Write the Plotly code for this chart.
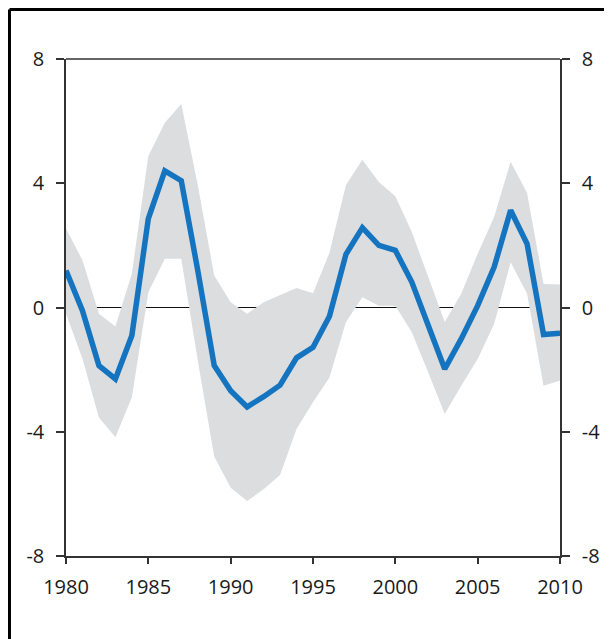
import plotly.graph_objects as go

years = list(range(1980, 2011))

central = [1.19, -0.1, -1.87, -2.3, -0.9, 2.86, 4.4, 4.08, 1.2, -1.87,
           -2.68, -3.2, -2.87, -2.5, -1.62, -1.28, -0.28, 1.71, 2.57, 2.0,
           1.84, 0.82, -0.58, -1.98, -1.01, 0.06, 1.3, 3.13, 2.05, -0.87,
           -0.83]

upper = [2.54, 1.52, -0.2, -0.61, 1.09, 4.88, 5.95, 6.55, 3.95, 1.03,
         0.17, -0.2, 0.17, 0.39, 0.63, 0.46, 1.76, 3.94, 4.76, 4.04,
         3.58, 2.43, 0.98, -0.47, 0.44, 1.73, 2.91, 4.69, 3.69, 0.76,
         0.74]

lower = [-0.2, -1.65, -3.54, -4.18, -2.89, 0.49, 1.57, 1.57, -1.7, -4.8,
         -5.8, -6.23, -5.85, -5.39, -3.91, -3.05, -2.25, -0.47, 0.33, 0.06,
         0.06, -0.8, -2.09, -3.43, -2.52, -1.66, -0.53, 1.46, 0.44, -2.52,
         -2.35]

y_ticks = [-8, -4, 0, 4, 8]
y_labels = ["-8", "-4", "0", "4", "8"]
x_ticks = [1980, 1985, 1990, 1995, 2000, 2005, 2010]

band_color = "#dcdddf"
line_color = "#1574c0"
axis_color = "#333333"

fig = go.Figure()

fig.add_trace(go.Scatter(x=years, y=lower, mode="lines",
                         line=dict(width=0, color=band_color),
                         hoverinfo="skip", showlegend=False))
fig.add_trace(go.Scatter(x=years, y=upper, mode="lines",
                         line=dict(width=0, color=band_color),
                         fill="tonexty", fillcolor=band_color,
                         hoverinfo="skip", showlegend=False))
fig.add_trace(go.Scatter(x=years, y=central, mode="lines",
                         line=dict(width=5.5, color=line_color),
                         showlegend=False))
# dummy trace so the right axis gets drawn
fig.add_trace(go.Scatter(x=years, y=central, mode="lines", yaxis="y2",
                         line=dict(width=0), opacity=0,
                         hoverinfo="skip", showlegend=False))

font = dict(family="Open Sans, sans-serif", size=20, color="#1a1a1a")

# page body adds 8px, so margins are shifted to compensate
fig.update_layout(
    width=612,
    height=639,
    margin=dict(l=58, r=60, t=51, b=91),
    paper_bgcolor="white",
    plot_bgcolor="white",
    font=font,
    xaxis=dict(
        range=[1980, 2010],
        tickvals=x_ticks,
        showgrid=False,
        zeroline=False,
        showline=True,
        linecolor=axis_color,
        linewidth=1.5,
        ticks="outside",
        ticklen=6,
        tickwidth=1.5,
        tickcolor=axis_color,
        ticklabelstandoff=6,
        automargin=False,
    ),
    yaxis=dict(
        range=[-8, 8],
        tickvals=y_ticks,
        ticktext=y_labels,
        showgrid=False,
        zeroline=True,
        zerolinecolor="#111111",
        zerolinewidth=1,
        showline=True,
        linecolor=axis_color,
        linewidth=1.5,
        ticks="outside",
        ticklen=8,
        tickwidth=1.5,
        tickcolor=axis_color,
        ticklabelstandoff=8,
        automargin=False,
    ),
    yaxis2=dict(
        range=[-8, 8],
        tickvals=y_ticks,
        ticktext=y_labels,
        overlaying="y",
        side="right",
        showgrid=False,
        zeroline=False,
        showline=True,
        linecolor=axis_color,
        linewidth=1.5,
        ticks="outside",
        ticklen=8,
        tickwidth=1.5,
        tickcolor=axis_color,
        ticklabelstandoff=8,
        automargin=False,
    ),
    shapes=[
        # top line at 8
        dict(type="line", xref="paper", yref="paper", x0=0, x1=1, y0=1, y1=1,
             line=dict(color="#666666", width=2), layer="above"),
        # outer frame (left and top edges visible)
        dict(type="line", xref="paper", yref="paper",
             x0=-0.1144, x1=-0.1144, y0=-0.3, y1=1.0996,
             line=dict(color="black", width=3)),
        dict(type="line", xref="paper", yref="paper",
             x0=-0.1144, x1=1.3, y0=1.0996, y1=1.0996,
             line=dict(color="black", width=3)),
    ],
)

fig.write_html("out.html")
